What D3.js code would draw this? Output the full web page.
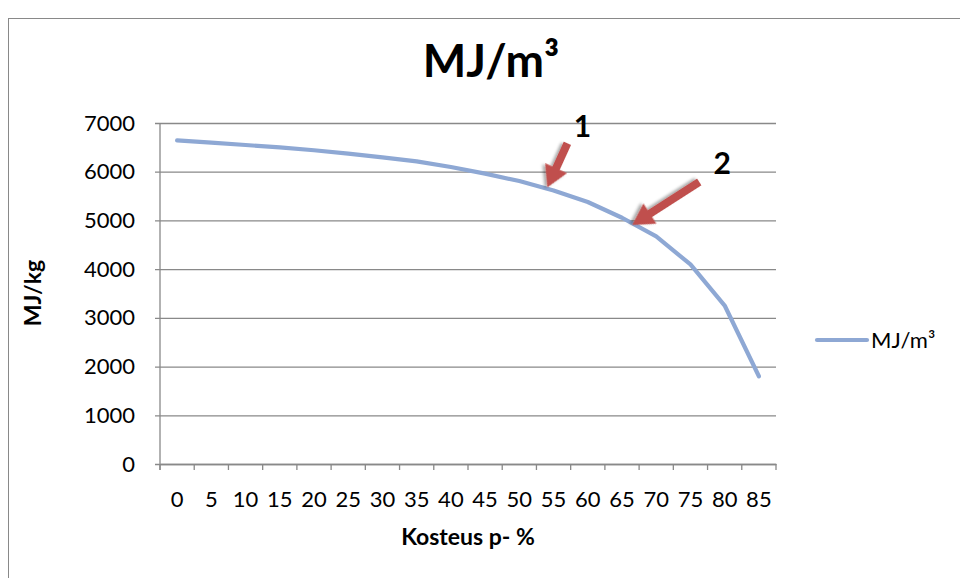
<!DOCTYPE html>
<html>
<head>
<meta charset="utf-8">
<script src="https://cdn.jsdelivr.net/npm/d3@7"></script>
<style>
  html, body { margin: 0; padding: 0; background: #fff; }
  svg { display: block; }
</style>
</head>
<body>
<svg id="chart" width="960" height="578"></svg>
<script>
// ---- data ----
const categories = ["0","5","10","15","20","25","30","35","40","45","50","55","60","65","70","75","80","85"];
const values = [6645, 6598, 6548, 6500, 6440, 6372, 6296, 6212, 6096, 5960, 5808, 5616, 5378, 5055, 4671, 4096, 3253, 1801];
const yTicks = [0, 1000, 2000, 3000, 4000, 5000, 6000, 7000];
const seriesName = "MJ/m³";
const titleText = "MJ/m³";
const yTitle = "MJ/kg";
const xTitle = "Kosteus p- %";
// annotation arrows: tip given as moisture % and value
const annotations = [
  { label: "1", pct: 54.1, value: 5680, dx: 20, dy: -44, lx: 35, ly: -50 },
  { label: "2", pct: 66.5, value: 4907, dx: 67, dy: -43, lx: 90, ly: -51 }
];

(function () {
const FONT = "Lato, 'Open Sans', sans-serif";
const svg = d3.select("#chart").attr("font-family", FONT);
const pL = 160, pR = 776, pT = 123, pB = 464;
const grey = "#898989";

// outer border
svg.append("rect").attr("x", 8.5).attr("y", 18.5).attr("width", 1000).attr("height", 1000)
  .attr("fill", "none").attr("stroke", grey).attr("stroke-width", 1);

const x = d3.scaleBand().domain(categories).range([pL, pR]).padding(0);
const y = d3.scaleLinear().domain([0, 7000]).range([pB, pT]);
const xPct = d3.scaleLinear().domain([0, 85])
  .range([x("0") + x.bandwidth() / 2, x("85") + x.bandwidth() / 2]);

// gridlines + y ticks
const yAxis = d3.axisLeft(y).tickValues(yTicks).tickFormat(d3.format("d"))
  .tickSize(-(pR - pL)).tickSizeOuter(0).tickPadding(25);
const gy = svg.append("g").attr("transform", `translate(${pL},0)`).call(yAxis);
gy.attr("font-family", FONT).attr("font-size", 22);
gy.select(".domain").remove();
gy.selectAll(".tick line").attr("stroke", grey).attr("x1", -5).attr("stroke-width", 1.3);
gy.selectAll(".tick text").attr("fill", "#000");

// x axis
const xAxis = d3.axisBottom(x).tickSize(0).tickPadding(27);
const gx = svg.append("g").attr("transform", `translate(0,${pB})`).call(xAxis);
gx.attr("font-family", FONT).attr("font-size", 22);
gx.select(".domain").attr("stroke", grey).attr("stroke-width", 1.3);
gx.selectAll(".tick text").attr("fill", "#000");
// tick marks at category boundaries
const bounds = categories.map(c => x(c)).concat([x.range()[1]]);
gx.selectAll(".bt").data(bounds).enter().append("line")
  .attr("x1", d => d).attr("x2", d => d).attr("y1", 0).attr("y2", 6)
  .attr("stroke", grey).attr("stroke-width", 1.3);
svg.append("line").attr("x1", pL).attr("x2", pL).attr("y1", pT).attr("y2", pB + 6)
  .attr("stroke", grey).attr("stroke-width", 1.3);

// line
const data = categories.map((c, i) => ({ c, v: values[i] }));
const line = d3.line().x(d => x(d.c) + x.bandwidth() / 2).y(d => y(d.v));
svg.append("path").datum(data).attr("d", line)
  .attr("fill", "none").attr("stroke", "#8EA8D4").attr("stroke-width", 4.2)
  .attr("stroke-linecap", "round").attr("stroke-linejoin", "round");

// titles
svg.append("text").attr("x", 491).attr("y", 77).attr("text-anchor", "middle")
  .attr("font-weight", "bold").attr("font-size", 46).text(titleText);
svg.append("text").attr("transform", "translate(41,293) rotate(-90)").attr("text-anchor", "middle")
  .attr("font-weight", "bold").attr("font-size", 23).text(yTitle);
svg.append("text").attr("x", 468).attr("y", 545).attr("text-anchor", "middle")
  .attr("font-weight", "bold").attr("font-size", 23).text(xTitle);

// legend
svg.append("line").attr("x1", 817).attr("x2", 867).attr("y1", 340).attr("y2", 340)
  .attr("stroke", "#8EA8D4").attr("stroke-width", 4.2).attr("stroke-linecap", "round");
svg.append("text").attr("x", 871).attr("y", 348).attr("font-size", 22).text(seriesName);

// arrows
const defs = svg.append("defs");
const f = defs.append("filter").attr("id", "sh").attr("x", "-50%").attr("y", "-50%").attr("width", "200%").attr("height", "200%");
f.append("feDropShadow").attr("dx", 2).attr("dy", 2).attr("stdDeviation", 1.5)
  .attr("flood-color", "#000").attr("flood-opacity", 0.35);

annotations.forEach(a => {
  const tx = xPct(a.pct), ty = y(a.value);
  const sx = tx + a.dx, sy = ty + a.dy;
  const len = Math.hypot(a.dx, a.dy);
  const ang = Math.atan2(ty - sy, tx - sx) * 180 / Math.PI;
  const hl = 21, hw = 12, sw = 4;
  const pts = [[0, -sw], [len - hl, -sw], [len - hl, -hw], [len, 0], [len - hl, hw], [len - hl, sw], [0, sw]];
  svg.append("polygon")
    .attr("points", pts.map(p => p.join(",")).join(" "))
    .attr("transform", `translate(${sx},${sy}) rotate(${ang})`)
    .attr("fill", "#C0504D").attr("filter", "url(#sh)");
  svg.append("text").attr("x", tx + a.lx).attr("y", ty + a.ly).attr("text-anchor", "middle")
    .attr("font-weight", "bold").attr("font-size", 30).text(a.label);
});
})();
</script>
</body>
</html>
